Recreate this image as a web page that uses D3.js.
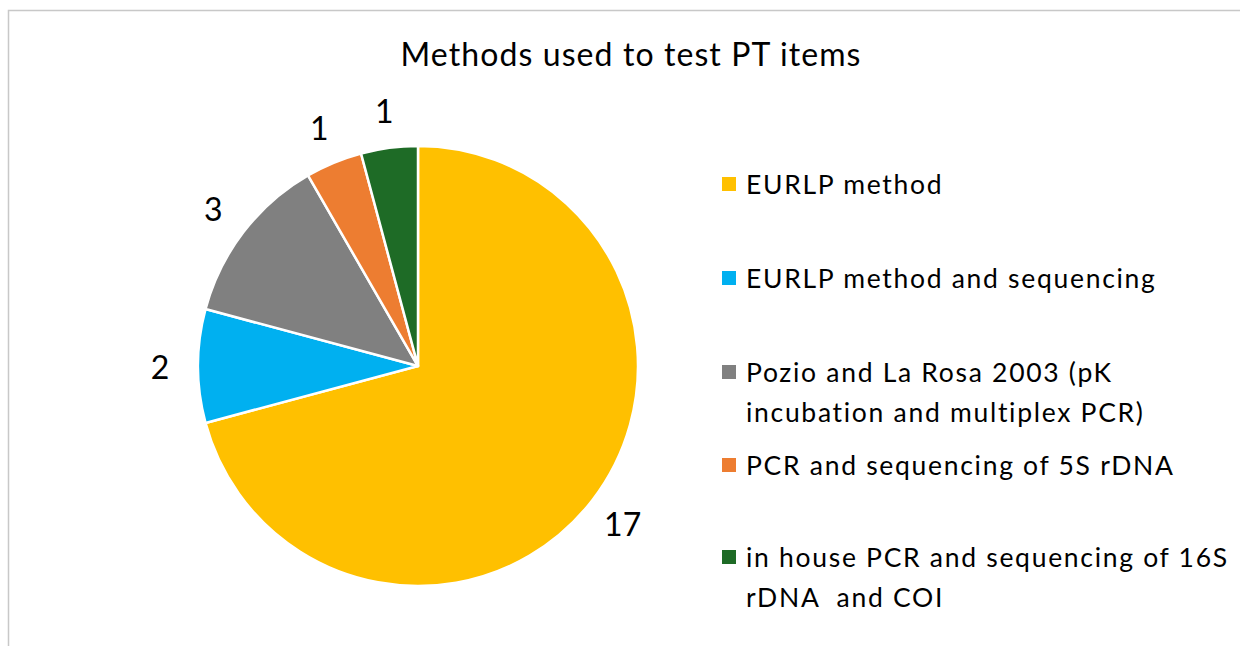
<!DOCTYPE html>
<html><head><meta charset="utf-8">
<script src="https://cdn.jsdelivr.net/npm/d3@7"></script>
<style>body{margin:0;background:#fff}svg{display:block}text{font-family:Lato,"Open Sans",sans-serif;fill:#000}</style>
</head><body>
<svg id="c" width="1240" height="646"></svg>
<script>
const categories = ["EURLP method","EURLP method and sequencing","Pozio and La Rosa 2003 (pK incubation and multiplex PCR)","PCR and sequencing of 5S rDNA","in house PCR and sequencing of 16S rDNA  and COI"];
const values = [17, 2, 3, 1, 1];
const colors = ["#FFC000","#00B0F0","#808080","#ED7D31","#1E6B26"];
const legendLines = [["EURLP method"],["EURLP method and sequencing"],["Pozio and La Rosa 2003 (pK","incubation and multiplex PCR)"],["PCR and sequencing of 5S rDNA"],["in house PCR and sequencing of 16S","rDNA  and COI"]];
const title = "Methods used to test PT items";

const svg = d3.select("#c");
svg.append("rect").attr("x",8.5).attr("y",10.5).attr("width",1300).attr("height",700).attr("fill","none").attr("stroke","#c8c8c8").attr("stroke-width",1.5);
svg.append("text").attr("x",631).attr("y",66).attr("text-anchor","middle").attr("font-size",32).attr("letter-spacing",1.1).text(title);

const cx=418, cy=366, R=220;
const pie = d3.pie().sort(null).value(d=>d);
const arcs = pie(values);
const arc = d3.arc().innerRadius(0).outerRadius(R);
const g = svg.append("g").attr("transform",`translate(${cx},${cy})`);
g.selectAll("path").data(arcs).join("path").attr("d",arc).attr("fill",(d,i)=>colors[i]).attr("stroke","#fff").attr("stroke-width",2.5).attr("stroke-linejoin","round");
const lab = d3.arc().innerRadius(258).outerRadius(258);
g.selectAll("text.l").data(arcs).join("text").attr("class","l")
 .attr("transform",d=>`translate(${lab.centroid(d)})`).attr("text-anchor","middle").attr("dominant-baseline","central").attr("font-size",32).text(d=>d.data);

const rowY=[184,278,372,465,557];
const lg = svg.append("g");
categories.forEach((c,i)=>{
  lg.append("rect").attr("x",722).attr("y",rowY[i]-7).attr("width",14).attr("height",14).attr("fill",colors[i]);
  legendLines[i].forEach((t,j)=>{
    lg.append("text").attr("x",746).attr("y",rowY[i]+j*40).attr("dominant-baseline","central").attr("font-size",26.5).attr("letter-spacing",1.7).attr("xml:space","preserve").style("white-space","pre").text(t);
  });
});
</script>
</body></html>
